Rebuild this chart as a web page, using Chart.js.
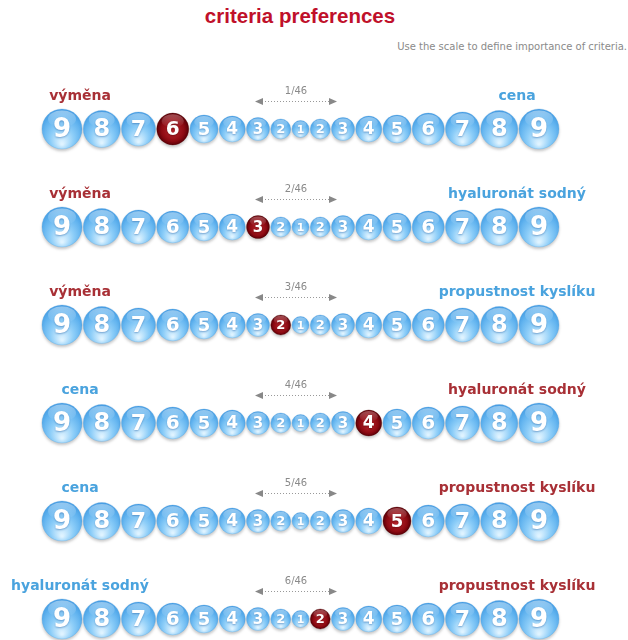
<!DOCTYPE html>
<html>
<head>
<meta charset="utf-8">
<script src="https://cdn.jsdelivr.net/npm/chart.js@4/dist/chart.umd.min.js"></script>
<style>
body{margin:0;background:#fff;}
#wrap{position:relative;width:628px;height:640px;overflow:hidden;}
#wrap canvas{position:absolute;left:0;top:0;}
h1{position:absolute;left:0;width:600px;top:4px;margin:0;text-align:center;font:bold 20.5px "Liberation Sans",Arial,sans-serif;color:#c0102a;}
.hint{position:absolute;right:1px;top:41px;font:10px "DejaVu Sans",sans-serif;color:#8a8a8a;}
</style>
</head>
<body>
<div id="wrap">
  <h1>criteria preferences</h1>
  <div class="hint">Use the scale to define importance of criteria.</div>
  <canvas id="pairs" width="628" height="640"></canvas>
</div>
<script>
var scaleNumbers = [9, 8, 7, 6, 5, 4, 3, 2, 1, 2, 3, 4, 5, 6, 7, 8, 9];
var leftCriteria = ['výměna', 'výměna', 'výměna', 'cena', 'cena', 'hyaluronát sodný'];
var rightCriteria = ['cena', 'hyaluronát sodný', 'propustnost kyslíku', 'hyaluronát sodný', 'propustnost kyslíku', 'propustnost kyslíku'];
var chosenSide = ['left', 'left', 'left', 'right', 'right', 'right'];
var chosenValue = [6, 3, 2, 4, 5, 2];
var pairNumber = [1, 2, 3, 4, 5, 6];
var pairTotal = 46;

// bubble size for each step of the scale, in px
var radiusOf = {1: 8.5, 2: 10, 3: 11.5, 4: 13, 5: 14, 6: 16, 7: 17, 8: 18.5, 9: 20};
var firstEdge = 42, gap = 1.25;

// bubbles sit next to each other, so x comes from the sizes
var xPos = [];
var cur = firstEdge;
scaleNumbers.forEach(function (n, i) {
  if (i === 0) cur += radiusOf[n];
  else cur += radiusOf[scaleNumbers[i - 1]] + radiusOf[n] + gap;
  xPos.push(cur);
});

function chosenIndex(row) {
  return chosenSide[row] === 'left' ? 9 - chosenValue[row] : 7 + chosenValue[row];
}

function bubbleFill(ctx) {
  var chosen = ctx.dataIndex === chosenIndex(ctx.datasetIndex);
  var flat = chosen ? '#9e1018' : '#6bb9ee';
  if (ctx.type !== 'data' || !ctx.raw) return flat;
  var chart = ctx.chart;
  var p = ctx.raw;
  var cx = chart.scales.x.getPixelForValue(p.x);
  var cy = chart.scales.y.getPixelForValue(p.y);
  if (!isFinite(cx) || !isFinite(cy)) return flat;
  var g;
  if (chosen) {
    g = chart.ctx.createRadialGradient(cx, cy + p.r * 0.2, p.r * 0.05, cx, cy, p.r);
    g.addColorStop(0, '#b8242c');
    g.addColorStop(0.7, '#8c0a12');
    g.addColorStop(1, '#5c0008');
  } else {
    g = chart.ctx.createRadialGradient(cx, cy + p.r * 0.75, p.r * 0.05, cx, cy + p.r * 0.2, p.r * 1.25);
    g.addColorStop(0, '#dff3ff');
    g.addColorStop(0.45, '#8ccdf8');
    g.addColorStop(0.85, '#54abec');
    g.addColorStop(1, '#4399e2');
  }
  return g;
}

var datasets = leftCriteria.map(function (c, row) {
  return {
    label: c + ' / ' + rightCriteria[row],
    data: scaleNumbers.map(function (n, i) {
      return {x: xPos[i], y: row, r: radiusOf[n], n: n};
    }),
    backgroundColor: bubbleFill,
    borderColor: function (ctx) {
      return ctx.dataIndex === chosenIndex(ctx.datasetIndex) ? 'rgba(80,0,0,0.5)' : 'rgba(80,160,225,0.45)';
    },
    borderWidth: 0.6
  };
});

var bubbleLook = {
  id: 'bubbleLook',
  beforeDatasetsDraw: function (chart) {
    var c = chart.ctx;
    c.save();
    c.shadowColor = 'rgba(0,0,0,0.22)';
    c.shadowBlur = 3;
    c.shadowOffsetY = 2;
  },
  afterDatasetsDraw: function (chart) {
    var c = chart.ctx;
    c.restore();
    chart.data.datasets.forEach(function (ds, di) {
      chart.getDatasetMeta(di).data.forEach(function (el, i) {
        var r = el.options.radius;
        var chosen = i === chosenIndex(di);
        // gloss on top
        c.save();
        var g = c.createLinearGradient(0, el.y - r, 0, el.y - r * 0.1);
        g.addColorStop(0, chosen ? 'rgba(255,200,200,0.4)' : 'rgba(255,255,255,0.45)');
        g.addColorStop(1, 'rgba(255,255,255,0)');
        c.fillStyle = g;
        c.beginPath();
        c.ellipse(el.x, el.y - r * 0.5, r * 0.7, r * 0.42, 0, 0, Math.PI * 2);
        c.fill();
        // number
        c.font = 'bold ' + Math.round(r * 1.28) + 'px "DejaVu Sans", sans-serif';
        c.textAlign = 'center';
        c.textBaseline = 'middle';
        c.shadowColor = chosen ? 'rgba(60,0,0,0.5)' : 'rgba(20,80,150,0.45)';
        c.shadowBlur = 2;
        c.shadowOffsetY = 1;
        c.fillStyle = '#fff';
        c.fillText(ds.data[i].n, el.x, el.y + 1);
        c.restore();
      });
    });
  }
};

var rowTexts = {
  id: 'rowTexts',
  afterDraw: function (chart) {
    var c = chart.ctx;
    var ys = chart.scales.y;
    c.save();
    leftCriteria.forEach(function (lab, row) {
      var y = ys.getPixelForValue(row);
      var leftWins = chosenSide[row] === 'left';
      c.font = 'bold 14px "DejaVu Sans", sans-serif';
      c.textBaseline = 'middle';
      c.textAlign = 'center';
      c.fillStyle = leftWins ? '#a83036' : '#4aa3de';
      c.fillText(lab, 80, y - 33);
      var rl = rightCriteria[row];
      var w = c.measureText(rl).width;
      var rx = Math.min(517, 622 - w / 2);
      c.fillStyle = leftWins ? '#4aa3de' : '#a83036';
      c.fillText(rl, rx, y - 33);

      // counter and arrow
      c.font = '10px "DejaVu Sans", sans-serif';
      c.fillStyle = '#8a8a8a';
      c.fillText(pairNumber[row] + '/' + pairTotal, 296, y - 38);
      var ay = y - 28;
      c.strokeStyle = '#999';
      c.lineWidth = 1;
      c.setLineDash([1, 2]);
      c.beginPath();
      c.moveTo(262, ay + 0.5);
      c.lineTo(330, ay + 0.5);
      c.stroke();
      c.setLineDash([]);
      c.fillStyle = '#888';
      c.beginPath();
      c.moveTo(255, ay + 0.5); c.lineTo(263, ay - 3); c.lineTo(263, ay + 4); c.closePath();
      c.fill();
      c.beginPath();
      c.moveTo(337, ay + 0.5); c.lineTo(329, ay - 3); c.lineTo(329, ay + 4); c.closePath();
      c.fill();
    });
    c.restore();
  }
};

new Chart(document.getElementById('pairs'), {
  type: 'bubble',
  data: {datasets: datasets},
  options: {
    responsive: false,
    animation: false,
    events: [],
    layout: {padding: 0, autoPadding: false},
    plugins: {legend: {display: false}, tooltip: {enabled: false}},
    scales: {
      x: {type: 'linear', display: false, min: 0, max: 628},
      y: {type: 'linear', display: false, reverse: true, min: -129 / 98, max: 511 / 98}
    }
  },
  plugins: [bubbleLook, rowTexts]
});
</script>
</body>
</html>
